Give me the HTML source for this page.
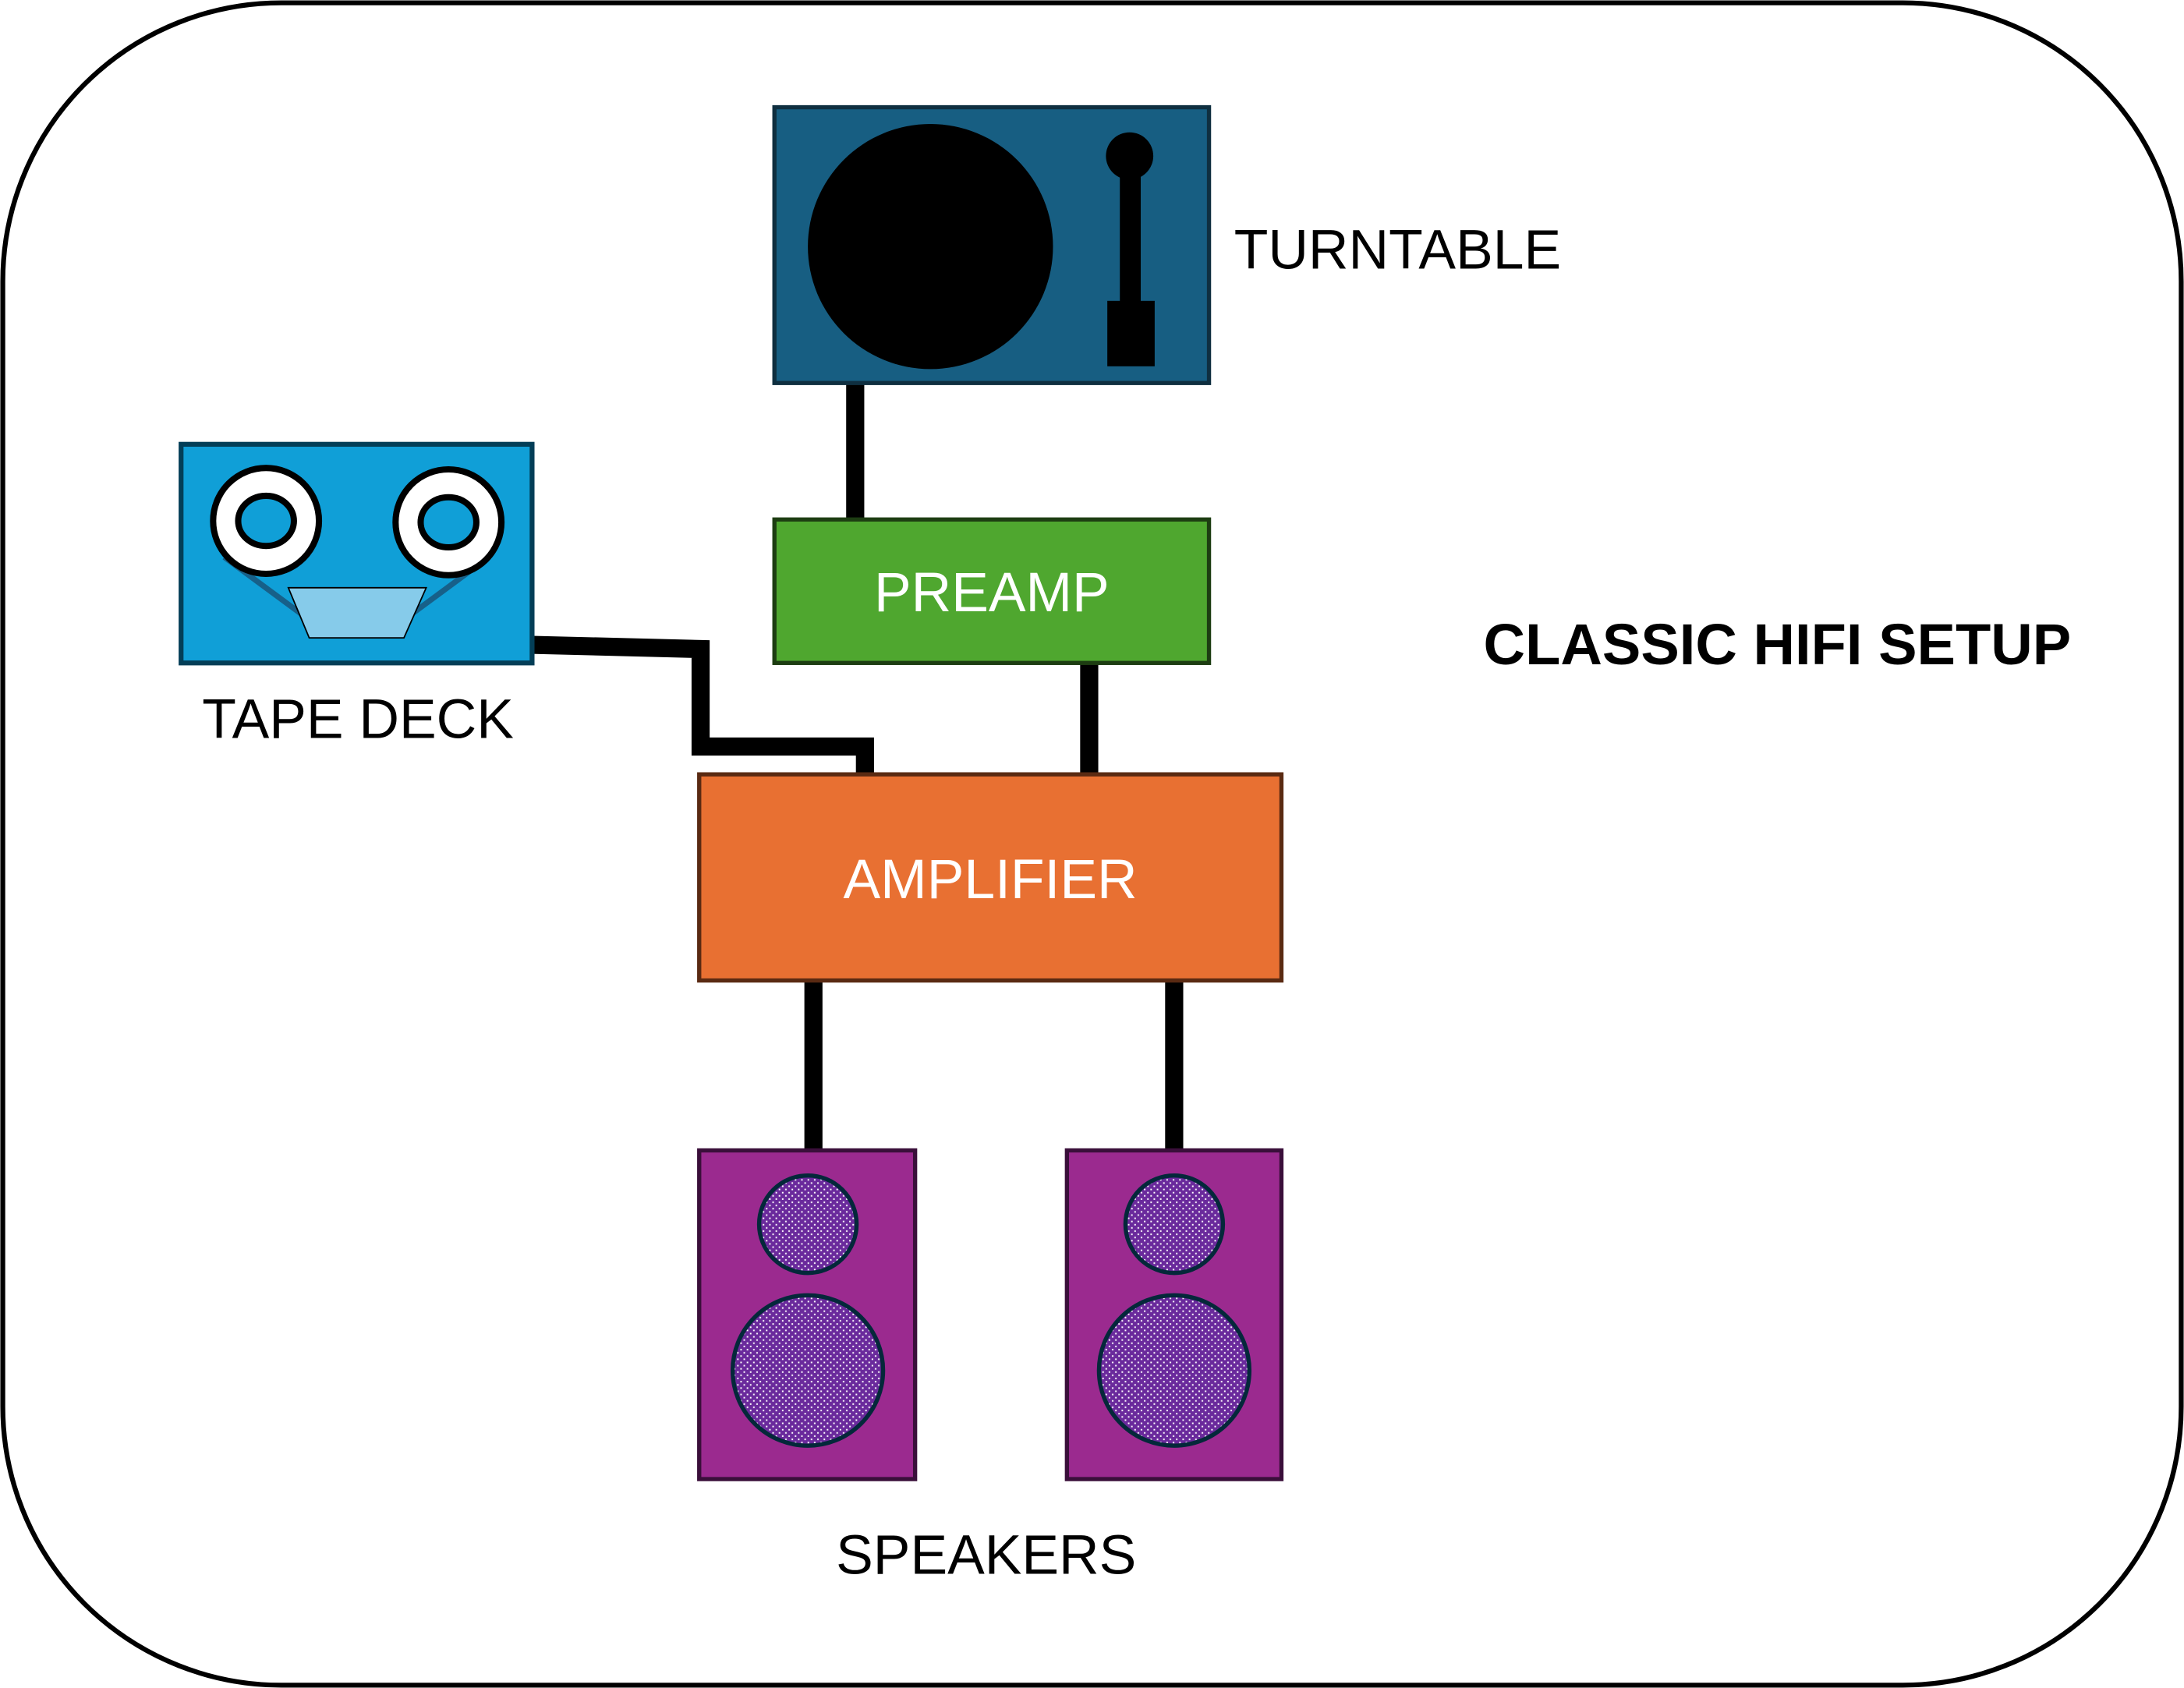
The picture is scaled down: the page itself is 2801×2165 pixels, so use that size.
<!DOCTYPE html>
<html><head><meta charset="utf-8"><style>
html,body{margin:0;padding:0;background:#fff;}
svg{display:block;}
text{font-family:"Liberation Sans",sans-serif;}
</style></head><body>
<svg width="2801" height="2165" viewBox="0 0 1568 1212" preserveAspectRatio="none" xmlns="http://www.w3.org/2000/svg">
<defs>
<pattern id="dots" width="4.6" height="4.6" patternUnits="userSpaceOnUse">
<rect width="4.6" height="4.6" fill="#6a2a9c"/>
<rect x="0.2" y="0.2" width="1.1" height="1.1" fill="#fff"/>
<rect x="2.5" y="2.5" width="1.1" height="1.1" fill="#fff"/>
</pattern>
</defs>
<rect x="2" y="2" width="1564" height="1208" rx="200" ry="200" fill="#fff" stroke="#000" stroke-width="3.5"/>

<g stroke="#000" stroke-width="13" fill="none">
<line x1="614" y1="275" x2="614" y2="373"/>
<line x1="782" y1="476" x2="782" y2="556"/>
<polyline points="382,463 503,466 503,536 621,536 621,556"/>
<line x1="584" y1="704" x2="584" y2="826"/>
<line x1="843" y1="704" x2="843" y2="826"/>
</g>

<rect x="556" y="77" width="312" height="198" fill="#175e82" stroke="#0f2f40" stroke-width="3"/>
<circle cx="668" cy="177" r="88" fill="#000"/>
<circle cx="811" cy="112" r="17" fill="#000"/>
<rect x="804" y="112" width="15" height="108" fill="#000"/>
<rect x="795" y="216" width="34" height="47" fill="#000"/>
<text x="886" y="193" font-size="40">TURNTABLE</text>

<rect x="556" y="373" width="312" height="103" fill="#4fa72f" stroke="#1d3d12" stroke-width="3"/>
<text x="712" y="439" font-size="40" fill="#fff" text-anchor="middle">PREAMP</text>

<rect x="502" y="556" width="418" height="148" fill="#e87032" stroke="#5a2a12" stroke-width="3"/>
<text x="711" y="645" font-size="40" fill="#fff" text-anchor="middle">AMPLIFIER</text>

<rect x="130" y="319" width="252" height="157" fill="#109fd7" stroke="#033e57" stroke-width="3.5"/>
<line x1="161" y1="400" x2="222" y2="445" stroke="#176089" stroke-width="4"/>
<line x1="351" y1="400" x2="290" y2="445" stroke="#176089" stroke-width="4"/>
<circle cx="191" cy="374" r="38" fill="#fff" stroke="#000" stroke-width="4.5"/>
<ellipse cx="191" cy="374" rx="20" ry="18" fill="#109fd7" stroke="#000" stroke-width="4.5"/>
<circle cx="322" cy="375" r="38" fill="#fff" stroke="#000" stroke-width="4.5"/>
<ellipse cx="322" cy="375" rx="20" ry="18" fill="#109fd7" stroke="#000" stroke-width="4.5"/>
<polygon points="207,422 306,422 290,458 222,458" fill="#86cbea" stroke="#000" stroke-width="1"/>
<text x="257" y="530" font-size="40" text-anchor="middle">TAPE DECK</text>

<rect x="502" y="826" width="155" height="236" fill="#9b2a8f" stroke="#3a0f3a" stroke-width="3"/>
<circle cx="580" cy="879" r="35" fill="url(#dots)" stroke="#04283a" stroke-width="3"/>
<circle cx="580" cy="984" r="54" fill="url(#dots)" stroke="#04283a" stroke-width="3"/>
<rect x="766" y="826" width="154" height="236" fill="#9b2a8f" stroke="#3a0f3a" stroke-width="3"/>
<circle cx="843" cy="879" r="35" fill="url(#dots)" stroke="#04283a" stroke-width="3"/>
<circle cx="843" cy="984" r="54" fill="url(#dots)" stroke="#04283a" stroke-width="3"/>
<text x="708" y="1130" font-size="40" text-anchor="middle">SPEAKERS</text>

<text x="1276" y="477" font-size="41.5" font-weight="bold" text-anchor="middle">CLASSIC HIFI SETUP</text>
</svg>
</body></html>
